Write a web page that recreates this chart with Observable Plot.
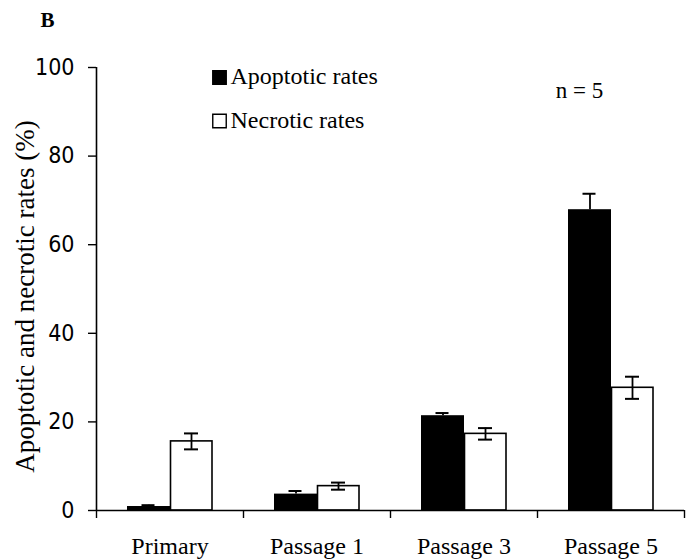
<!DOCTYPE html>
<html>
<head>
<meta charset="utf-8">
<script src="https://cdn.jsdelivr.net/npm/d3@7"></script>
<script src="https://cdn.jsdelivr.net/npm/@observablehq/plot@0.6"></script>
<style>
  html, body { margin: 0; padding: 0; background: #fff; }
  #chart { width: 691px; height: 560px; }
  #chart [aria-label="y-axis tick label"] { font-stretch: condensed; }
</style>
</head>
<body>
<div id="chart"></div>
<script>
// ---- data ----
const categories = ["Primary", "Passage 1", "Passage 3", "Passage 5"];
const apoptotic = [0.9, 3.7, 21.4, 67.9];
const apoptoticErr = [0.3, 0.7, 0.6, 3.6];
const necrotic = [15.6, 5.5, 17.3, 27.7];
const necroticErr = [1.8, 0.8, 1.3, 2.5];
const yTicks = [0, 20, 40, 60, 80, 100];
const legendLabels = ["Apoptotic rates", "Necrotic rates"];
const legendFills = ["black", "white"];
const panelLabel = "B";
const nLabel = "n = 5";
const yLabel = "Apoptotic and necrotic rates (%)";

const apo = categories.map((c, i) => ({cat: c, v: apoptotic[i], e: apoptoticErr[i]}));
const nec = categories.map((c, i) => ({cat: c, v: necrotic[i], e: necroticErr[i]}));

const serif = "'Liberation Serif', 'Times New Roman', serif";
const narrow = "'Liberation Sans Narrow', 'Arial Narrow', 'DejaVu Sans', sans-serif";
const half = 73.5; // half band width in px

function legendItem(i, dy) {
  return [
    Plot.dot([legendLabels[i]], {frameAnchor: "top-left", dx: 123, dy: dy, symbol: "square", r: 7.6, fill: legendFills[i], stroke: "black", strokeWidth: 1.4}),
    Plot.text([legendLabels[i]], {frameAnchor: "top-left", dx: 134, dy: dy - 1, text: d => d, textAnchor: "start", lineAnchor: "middle", fontSize: 24, fontFamily: serif})
  ];
}

const chart = Plot.plot({
  width: 691,
  height: 560,
  marginLeft: 96,
  marginRight: 7,
  marginTop: 67,
  marginBottom: 50,
  style: {background: "white", color: "black"},
  x: {domain: categories, padding: 0, label: null},
  y: {domain: [0, 100], label: null},
  marks: [
    // bars
    Plot.barY(apo, {x: "cat", y: "v", fill: "black", insetLeft: 31, insetRight: 73}),
    Plot.barY(nec, {x: "cat", y: "v", fill: "white", stroke: "black", strokeWidth: 1.6, insetLeft: 74.5, insetRight: 31}),
    // error bars
    Plot.ruleX(apo, {x: "cat", y1: "v", y2: d => d.v + d.e, dx: -21, stroke: "black", strokeWidth: 1.8}),
    Plot.tickY(apo, {x: "cat", y: d => d.v + d.e, insetLeft: 45.5, insetRight: 88.5, stroke: "black", strokeWidth: 2}),
    Plot.ruleX(nec, {x: "cat", y1: d => d.v - d.e, y2: d => d.v + d.e, dx: 21.5, stroke: "black", strokeWidth: 1.8}),
    Plot.tickY(nec, {x: "cat", y: d => d.v + d.e, insetLeft: 88, insetRight: 45, stroke: "black", strokeWidth: 2}),
    Plot.tickY(nec, {x: "cat", y: d => d.v - d.e, insetLeft: 88, insetRight: 45, stroke: "black", strokeWidth: 2}),
    // axis lines
    Plot.ruleY([0], {stroke: "black", strokeWidth: 1.6}),
    Plot.ruleX([categories[0]], {dx: -half, y1: 0, y2: 100, stroke: "black", strokeWidth: 1.6}),
    // y axis
    Plot.axisY({ticks: yTicks, tickSize: 8, tickPadding: 14, fontSize: 23, fontFamily: narrow, strokeWidth: 1.4, label: null}),
    // x axis: boundary ticks
    Plot.axisX(categories, {dx: -half, tickSize: 8, tickFormat: () => "", strokeWidth: 1.4, label: null}),
    Plot.axisX([categories[categories.length - 1]], {dx: half, tickSize: 8, tickFormat: () => "", strokeWidth: 1.4, label: null}),
    // x axis labels
    Plot.axisX({tickSize: 0, tickPadding: 26, fontSize: 24, fontFamily: serif, label: null}),
    // y label
    Plot.text([yLabel], {frameAnchor: "left", dx: -71, dy: 7.5, rotate: -90, textAnchor: "middle", lineAnchor: "middle", fontSize: 27, fontFamily: serif, text: d => d}),
    // panel label
    Plot.text([panelLabel], {frameAnchor: "top-left", dx: -56, dy: -47, fontSize: 21, fontWeight: "bold", fontFamily: serif, textAnchor: "start", lineAnchor: "middle", text: d => d}),
    // legend
    ...legendItem(0, 10),
    ...legendItem(1, 53.5),
    // n = 5
    Plot.text([nLabel], {frameAnchor: "top-left", dx: 483, dy: 23, text: d => d, textAnchor: "middle", lineAnchor: "middle", fontSize: 23, fontFamily: serif})
  ]
});
document.getElementById("chart").appendChild(chart);
</script>
</body>
</html>
